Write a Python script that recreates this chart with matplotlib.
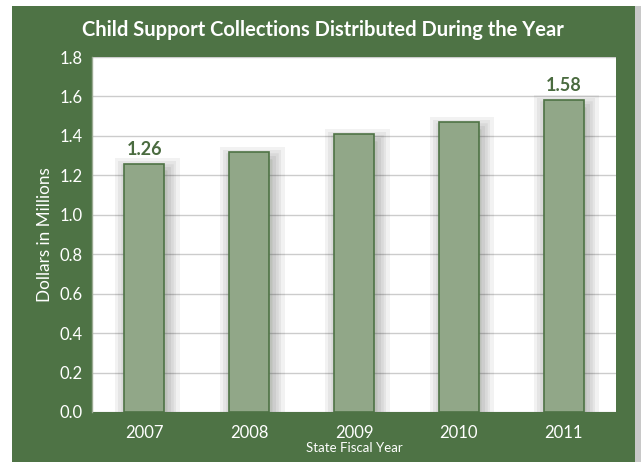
import matplotlib
matplotlib.use("Agg")
import matplotlib.pyplot as plt
from matplotlib.patches import Rectangle
import matplotlib.patheffects as pe

years = ["2007", "2008", "2009", "2010", "2011"]
values = [1.26, 1.32, 1.41, 1.47, 1.58]
labels = ["1.26", "", "", "", "1.58"]
yticks = [0.0, 0.2, 0.4, 0.6, 0.8, 1.0, 1.2, 1.4, 1.6, 1.8]

GREEN = "#4E7345"
BAR = "#91A788"
TXT = "#4A6B3F"

W, H = 641, 462
fig = plt.figure(figsize=(W / 100, H / 100), dpi=100)
fig.patch.set_facecolor("white")

# green panel with a grey shadow on the right
fig.patches.append(Rectangle((635 / W, 0), 6 / W, 1 - 6 / H, transform=fig.transFigure,
                             facecolor="#C8C8C8", edgecolor="none", zorder=-3))
fig.patches.append(Rectangle((12 / W, 0), (635 - 12) / W, 1 - 6 / H, transform=fig.transFigure,
                             facecolor=GREEN, edgecolor="none", zorder=-2))

ax = fig.add_axes([92 / W, 1 - 412 / H, (616 - 92) / W, (412 - 57) / H])
ax.set_zorder(1)
ax.set_facecolor("white")
x = list(range(len(years)))

shadow = [pe.Stroke(offset=(2, -5), linewidth=lw, foreground="black", alpha=0.05)
          for lw in (18, 13, 9, 5)] + [pe.Normal()]
bars = ax.bar(x, values, width=0.38, color=BAR, edgecolor=GREEN, linewidth=1.2, zorder=3)
for b in bars:
    b.set_path_effects(shadow)

for xi, v, lab in zip(x, values, labels):
    if lab:
        ax.text(xi, v + 0.03, lab, ha="center", va="bottom", color=TXT,
                fontsize=13, fontweight="bold", family="Lato", zorder=4)

ax.set_xlim(-0.5, 4.5)
ax.set_ylim(0, 1.8)
ax.set_yticks(yticks)
ax.set_yticklabels([f"{t:.1f}" for t in yticks])
ax.set_xticks(x)
ax.set_xticklabels(years)
ax.yaxis.grid(True, color="#CCCCCC", linewidth=1.0, zorder=0)
ax.set_axisbelow(True)
ax.tick_params(axis="both", length=0, colors="white", labelsize=12, labelcolor="white")
ax.tick_params(axis="y", pad=7)
ax.tick_params(axis="x", pad=9)
for lab in ax.get_xticklabels() + ax.get_yticklabels():
    lab.set_family("Lato")
for s in ["top", "right", "bottom"]:
    ax.spines[s].set_visible(False)
ax.spines["left"].set_color("#9AAA92")
ax.spines["left"].set_linewidth(1)

ax.set_ylabel("Dollars in Millions", color="white", fontsize=12.3, family="Lato")
ax.yaxis.set_label_coords((53 - 92) / (616 - 92), 0.5)
ax.set_xlabel("State Fiscal Year", color="white", fontsize=9.5, family="Lato", labelpad=1)

fig.text(323 / W, 1 - 30 / H, "Child Support Collections Distributed During the Year",
         ha="center", va="center", color="white", fontsize=14.5, fontweight="bold", family="Lato")

fig.savefig("out.png", dpi=100, facecolor=fig.get_facecolor())
